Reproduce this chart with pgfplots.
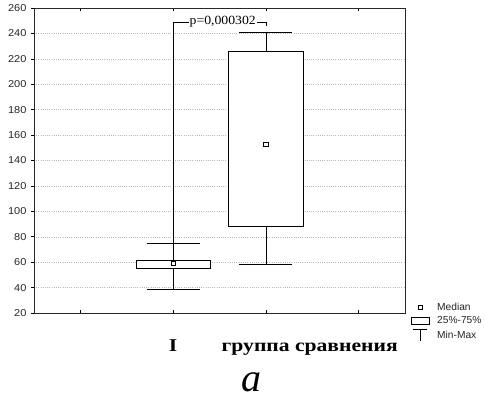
\documentclass[border=0pt]{standalone}
\usepackage{fontspec}
\setmainfont{Liberation Serif}
\newfontfamily\sansw[FakeStretch=1.1]{Liberation Sans}
\newfontfamily\sansn{Liberation Sans}
\newfontfamily\serifw[FakeStretch=1.2]{Liberation Serif}
\newfontfamily\serifp[FakeStretch=1.1]{Liberation Serif}
\usepackage{pgfplots}
\pgfplotsset{compat=1.18}
\begin{document}
\begin{tikzpicture}
\path (-34pt,-87pt) rectangle (451pt,313pt);
\begin{axis}[
  at={(0pt,0pt)}, anchor=south west,
  scale only axis, width=371pt, height=305pt,
  clip=false,
  xmin=-0.5, xmax=3.5, ymin=20, ymax=260,
  xtick={0,1,2,3}, xticklabels={},
  ytick={20,40,...,260},
  xtick pos=both, ytick pos=left,
  xtick align=inside, ytick align=outside,
  major tick length=3pt,
  tick style={black, line width=0.6pt},
  axis line style={black!85, line width=0.8pt},
  ymajorgrids,
  grid style={gray!55, dash pattern=on 1pt off 1.2pt, line width=0.5pt},
  /pgf/number format/assume math mode=true,
  yticklabel style={font=\sansw\fontsize{10}{12}\selectfont, text=black!85, xshift=-1pt},
  legend style={at={(1.0135,0.043)}, anchor=north west, draw=none, fill=none,
    font=\sansn\fontsize{10.2}{12}\selectfont, text=black!85, row sep=0pt,
    column sep=0pt, inner sep=0pt, nodes={inner sep=0pt}},
  legend cell align=left,
]
% group I: min 39, q1 55, median 59, q3 61.5, max 75
\addplot[forget plot, black, line width=0.6pt] coordinates {(1,61.5) (1,75)};
\addplot[forget plot, black, line width=0.6pt] coordinates {(1,39) (1,55)};
\addplot[forget plot, black, line width=0.6pt] coordinates {(0.715,75) (1.285,75)};
\addplot[forget plot, black, line width=0.6pt] coordinates {(0.715,39) (1.285,39)};
\addplot[forget plot, draw=black, fill=white, line width=0.6pt] coordinates {(0.6,55) (1.4,55) (1.4,61.5) (0.6,61.5)} --cycle;
% group 2: min 58.6, q1 88, median 152.7, q3 226, max 241
\addplot[forget plot, black, line width=0.6pt] coordinates {(2,226) (2,241)};
\addplot[forget plot, black, line width=0.6pt] coordinates {(2,58.6) (2,88)};
\addplot[forget plot, black, line width=0.6pt] coordinates {(1.715,241) (2.285,241)};
\addplot[forget plot, black, line width=0.6pt] coordinates {(1.715,58.6) (2.285,58.6)};
\addplot[forget plot, draw=black, fill=white, line width=0.6pt] coordinates {(1.6,88) (2.4,88) (2.4,226) (1.6,226)} --cycle;
% medians
\addplot[forget plot, only marks, mark=square, mark size=2.2pt,
  mark options={draw=black, fill=white, line width=0.6pt}]
  coordinates {(1,59) (2,152.7)};
\draw[black, line width=0.6pt] (axis cs:1,75) -- (axis cs:1,248.5) -- (axis cs:2,248.5) -- (axis cs:2,245.5);
\node[fill=white, inner sep=1pt, anchor=base, font=\serifp\fontsize{12.5}{14}\selectfont]
  at (axis cs:1.535,247.3) {p=0,000302};
\addlegendimage{legend image code/.code={\path[draw=none, fill=none] (0pt,-7pt) rectangle (27pt,7pt); \draw[black, fill=none, line width=0.5pt] (8pt,-2pt) rectangle (12pt,2pt);}}
\addlegendentry{Median}
\addlegendimage{legend image code/.code={\path[draw=none, fill=none] (0pt,-7pt) rectangle (27pt,7pt); \draw[black, fill=none, line width=0.5pt] (1pt,-3.5pt) rectangle (19pt,3.5pt);}}
\addlegendentry{25\%-75\%}
\addlegendimage{legend image code/.code={\path[draw=none, fill=none] (0pt,-7pt) rectangle (27pt,7pt); \draw[black, line width=0.5pt] (3pt,5.5pt) -- (17pt,5.5pt) (10pt,5.5pt) -- (10pt,-6pt);}}
\addlegendentry{Min-Max}
\node[anchor=base, yshift=-38pt, font=\serifw\bfseries\fontsize{18}{20}\selectfont] at (axis cs:1,20) {I};
\node[anchor=base, yshift=-38pt, font=\serifw\bfseries\fontsize{18}{20}\selectfont] at (axis cs:2.473,20) {группа сравнения};
\node[anchor=base, yshift=-78.7pt, font=\fontsize{40}{44}\selectfont\itshape] at (rel axis cs:0.585,0) {a};
\end{axis}
\end{tikzpicture}
\end{document}
